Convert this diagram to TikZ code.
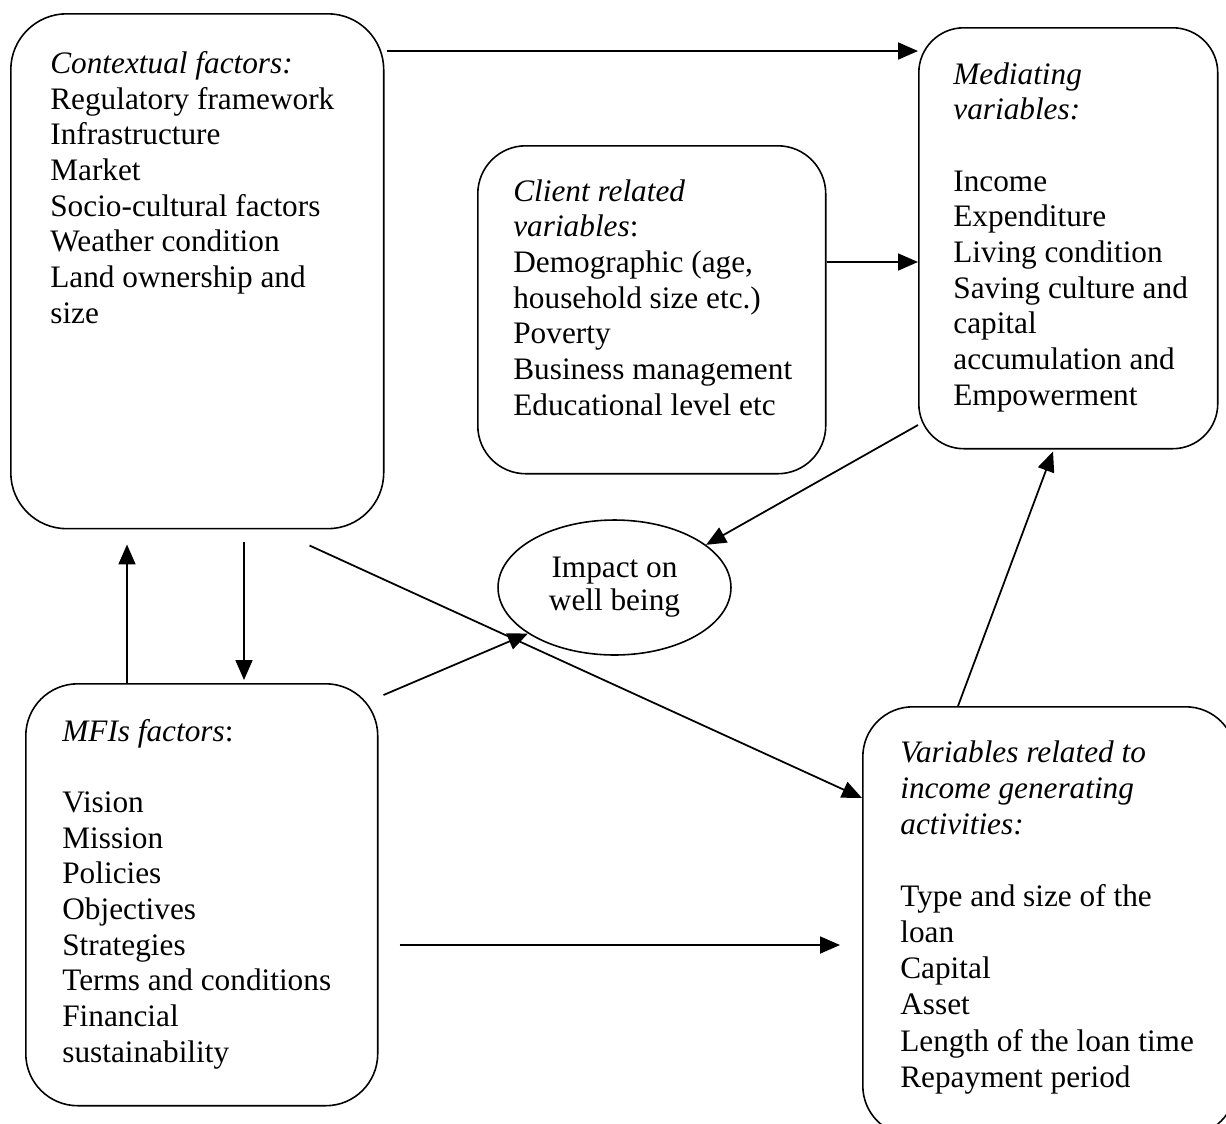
\documentclass[tikz,border=0pt]{standalone}
\usepackage{fontspec}
\setmainfont{Liberation Serif}
\usetikzlibrary{arrows.meta,shapes.geometric,calc}
\tikzset{
  boxshape/.style={draw, line width=0.9pt, rectangle, anchor=north west, inner sep=0pt},
  txt/.style={anchor=base west, align=left, inner sep=0pt, font=\fontsize{17.8}{20.3}\selectfont},
  arr/.style={line width=1pt, -{Triangle[length=0.4cm, width=0.34cm]}}
}
\begin{document}
\begin{tikzpicture}[x=0.02cm, y=-0.02cm]
\useasboundingbox (0,0) rectangle (1226,1123);
\fill[white] (0,0) rectangle (1226,1123);
\clip (0,0) rectangle (1226,1123);

% boxes
\node[boxshape, rounded corners=1.12cm, minimum width=7.46cm, minimum height=10.30cm] (ctx) at (10,13) {};
\node[boxshape, rounded corners=0.9cm, minimum width=5.98cm, minimum height=8.42cm] (med) at (918,27) {};
\node[boxshape, rounded corners=0.96cm, minimum width=6.96cm, minimum height=6.56cm] (cli) at (477,145) {};
\node[boxshape, rounded corners=1.04cm, minimum width=7.04cm, minimum height=8.44cm] (mfi) at (25,683) {};
\node[boxshape, rounded corners=1.0cm, minimum width=7.46cm, minimum height=8.58cm] (var) at (862,706) {};
\node[draw, line width=0.9pt, ellipse, minimum width=4.66cm, minimum height=2.7cm, inner sep=0pt,
      align=center, font=\fontsize{17.8}{18.8}\selectfont] (imp) at (614.5,587.5) {Impact on\\well being};

% texts (anchored at the baseline of their last line)
\node[txt] (ctxt) at (50,323) {\textit{Contextual factors:}\\Regulatory framework\\Infrastructure\\Market\\Socio-cultural factors\\Weather condition\\Land ownership and\\size};
\node[txt] (medt) at (953,405) {\textit{Mediating}\\\textit{variables:}\\[20.3pt]Income\\Expenditure\\Living condition\\Saving culture and\\capital\\accumulation and\\Empowerment};
\node[txt] (clit) at (513,415) {\textit{Client related}\\\textit{variables}:\\Demographic (age,\\household size etc.)\\Poverty\\Business management\\Educational level etc};
\node[txt] (mfit) at (62,1062) {\textit{MFIs factors}:\\[20.3pt]Vision\\Mission\\Policies\\Objectives\\Strategies\\Terms and conditions\\Financial\\sustainability};
\node[txt, font=\fontsize{17.8}{20.5}\selectfont] (vart) at (900,1087) {\textit{Variables related to}\\\textit{income generating}\\\textit{activities:}\\[20.5pt]Type and size of the\\loan\\Capital\\Asset\\Length of the loan time\\Repayment period};

% connectors
\draw[arr] ($(ctx.north east |- 0,51)+(2,0)$) -- (med.west |- 0,51);
\draw[arr] (cli.east |- 0,262) -- (med.west |- 0,262);
\draw[arr] (med.west |- 0,425) -- (imp.25);
\draw[arr] ($(mfi.north east)+(5,12)$) -- (imp.208);
\draw[arr] ($(ctx.south east)+(-75,16)$) -- (var.west |- 0,798);
\draw[arr] ($(mfi.east |- 0,945)+(21,0)$) -- ($(var.west |- 0,945)+(-22,0)$);
\draw[arr] ($(var.north west)+(96,0)$) -- ($(med.south west)+(135,2)$);
\draw[arr] ($(mfi.north west)+(102,0)$) -- ($(ctx.south west)+(117,15)$);
\draw[arr] ($(ctx.south west)+(234,13)$) -- ($(mfi.north west)+(219,-3)$);
\end{tikzpicture}
\end{document}
